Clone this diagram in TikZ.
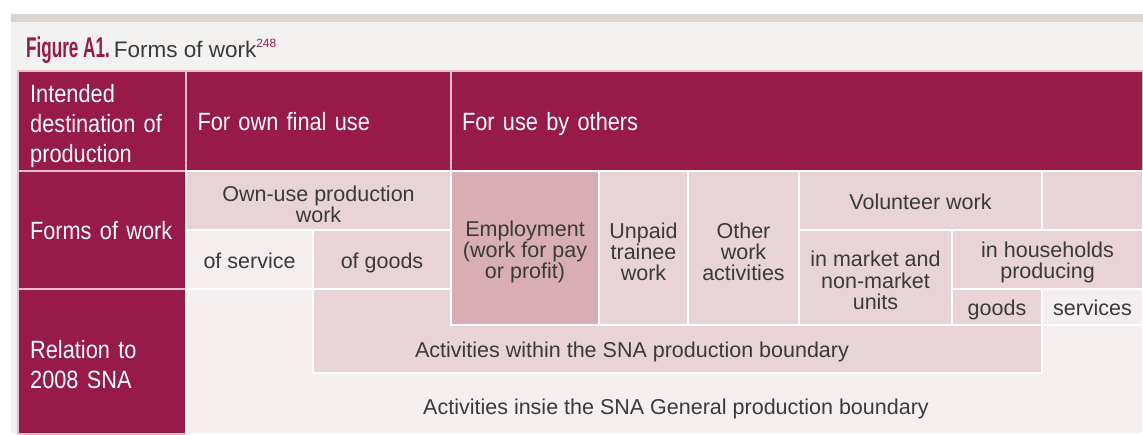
\documentclass[tikz,border=0pt]{standalone}
\usepackage{fontspec}
\setmainfont{Liberation Sans}
\newfontfamily\hdrfamily{Liberation Sans}[FakeStretch=0.87]
\newfontfamily\ttlfamily{Liberation Sans}[FakeStretch=0.6]
\definecolor{maroon}{RGB}{151,26,72}
\definecolor{mline}{RGB}{232,190,205}
\definecolor{pinkc}{RGB}{232,212,214}
\definecolor{empc}{RGB}{216,174,180}
\definecolor{lightc}{RGB}{244,238,239}
\definecolor{pagebg}{RGB}{244,242,240}
\definecolor{topbar}{RGB}{218,211,206}
\definecolor{txt}{RGB}{58,58,58}
\newcommand\hdrfont{\hdrfamily\fontsize{25}{30}\selectfont}
\newcommand\bodyfont{\fontsize{21.5}{21.3}\selectfont}
\newcommand\hstrut{\rule[-6.5pt]{0pt}{31pt}}
\newcommand\bstrut{\rule[-5pt]{0pt}{27pt}}
\tikzset{
  cellbase/.style={anchor=north west, inner sep=0pt, outer sep=0pt, line width=1.6pt},
  hdcell/.style={cellbase, fill=maroon, draw=mline, text=white, font=\hdrfont, align=left,
    execute at begin node=\hstrut, execute at end node=\hstrut},
  bcell/.style={cellbase, draw=white, text=txt, font=\bodyfont, align=center,
    execute at begin node=\bstrut, execute at end node=\bstrut},
  pkcell/.style={bcell, fill=pinkc},
  ltcell/.style={bcell, fill=lightc},
  emcell/.style={bcell, fill=empc},
  lbl/.style={inner sep=0pt, text=txt, font=\bodyfont, align=center,
    execute at begin node=\bstrut, execute at end node=\bstrut},
  mlbl/.style={inner sep=0pt, text=txt, font=\bodyfont, align=center},
  mhdr/.style={inner sep=0pt, text=white, font=\hdrfont, align=left, anchor=west}
}
\begin{document}
\begin{tikzpicture}[x=1pt,y=-1pt]
\useasboundingbox (0,0) rectangle (1143,434);
\fill[white] (0,0) rectangle (1143,434);
\fill[topbar] (11,14) rectangle (1143,22);
\fill[pagebg] (11,22) rectangle (1143,434);
% title
\node[anchor=base west, inner sep=0pt] (title) at (26,57)
  {{\ttlfamily\bfseries\fontsize{28.5}{28}\selectfont\color{maroon}Figure A1.}\hspace{4pt}{\fontsize{22.5}{22}\selectfont\color{txt}Forms of work}{\fontsize{12}{12}\selectfont\color{maroon}\raisebox{10pt}{248}}};
% header row
\node[hdcell, minimum width=168pt, minimum height=100pt] (hdest) at (18,71) {};
\node[mhdr, text width=144pt] (hdestlbl) at (30,126) {Intended\\destination of\\production};
\node[hdcell, minimum width=265pt, minimum height=100pt, text width=242pt] (hown) at (186,71) {For own final use};
\node[hdcell, minimum width=692pt, minimum height=100pt, text width=670pt] (hoth) at (451,71) {For use by others};
% left column
\node[hdcell, minimum width=168pt, minimum height=118pt, text width=144pt] (hforms) at (18,171) {Forms of work};
\node[hdcell, minimum width=168pt, minimum height=145pt] (hrel) at (18,289) {};
\node[mhdr, text width=144pt] (hrellbl) at (30,365) {Relation to\\2008 SNA};
% lower light area and band
\node[ltcell, minimum width=957pt, minimum height=145pt] (general) at (186,289) {};
\node[pkcell, minimum width=729pt, minimum height=84pt] (band) at (313,289) {};
\node[lbl] (bandlbl) at (632,349) {Activities within the SNA production boundary};
\node[lbl] (genlbl) at (676,406) {Activities insie the SNA General production boundary};
% own use
\node[pkcell, minimum width=265pt, minimum height=59pt] (ownuse) at (186,171) {};
\node[mlbl, yshift=-4pt] (ownuselbl) at (ownuse.center) {Own-use production\\work};
\node[ltcell, minimum width=127pt, minimum height=59pt] (ofserv) at (186,230) {of service};
\node[pkcell, minimum width=138pt, minimum height=59pt] (ofgoods) at (313,230) {of goods};
% for use by others
\node[emcell, minimum width=148pt, minimum height=154pt] (emp) at (451,171) {};
\node[mlbl, yshift=-4pt] (emplbl) at (emp.center) {Employment\\(work for pay\\or profit)};
\node[pkcell, minimum width=89pt, minimum height=154pt] (unpaid) at (599,171) {};
\node[mlbl, yshift=-4pt] (unpaidlbl) at (unpaid.center) {Unpaid\\trainee\\work};
\node[pkcell, minimum width=111pt, minimum height=154pt] (other) at (688,171) {};
\node[mlbl, yshift=-4pt] (otherlbl) at (other.center) {Other\\work\\activities};
\node[pkcell, minimum width=243pt, minimum height=59pt] (vol) at (799,171) {Volunteer work};
\node[pkcell, minimum width=101pt, minimum height=59pt] (blank) at (1042,171) {};
\node[pkcell, minimum width=153pt, minimum height=95pt] (market) at (799,230) {};
\node[mlbl, yshift=-3pt] (marketlbl) at (market.center) {in market and\\non-market\\units};
\node[pkcell, minimum width=191pt, minimum height=59pt] (hh) at (952,230) {};
\node[mlbl, yshift=-3pt] (hhlbl) at (hh.center) {in households\\producing};
\node[pkcell, minimum width=90pt, minimum height=36pt] (hhgoods) at (952,289) {goods};
\node[ltcell, minimum width=101pt, minimum height=36pt] (hhserv) at (1042,289) {services};
\end{tikzpicture}
\end{document}
